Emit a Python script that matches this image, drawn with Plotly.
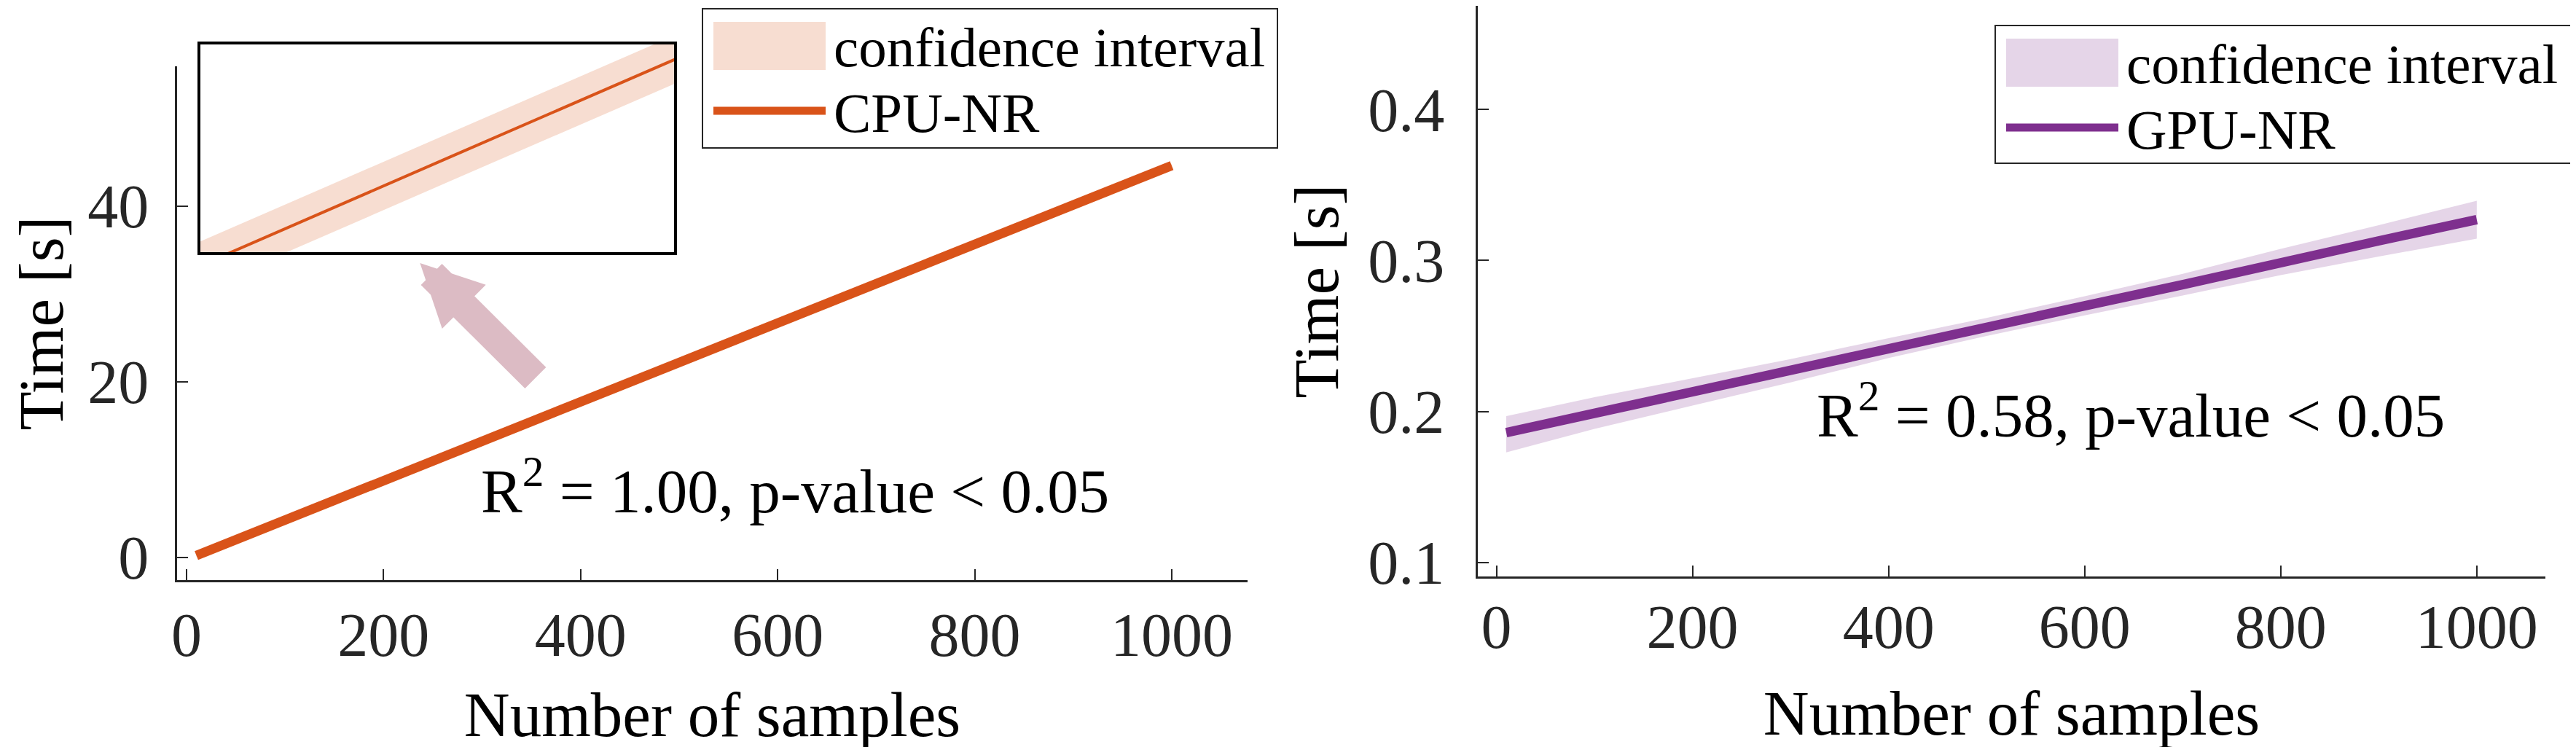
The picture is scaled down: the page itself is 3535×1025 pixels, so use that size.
import plotly.graph_objects as go

W, H = 3535, 1025
FONT = "Liberation Serif"

# regression lines
samples = [10, 100, 200, 300, 400, 500, 600, 700, 800, 900, 1000]

cpu_fit = [0.20, 4.24, 8.72, 13.21, 17.69, 22.18, 26.66, 31.15, 35.63, 40.12, 44.60]
cpu_lo = [0.03, 4.08, 8.57, 13.06, 17.54, 22.03, 26.51, 31.00, 35.48, 39.96, 44.43]
cpu_hi = [0.37, 4.40, 8.87, 13.36, 17.84, 22.33, 26.81, 31.30, 35.78, 40.28, 44.77]

gpu_fit = [0.186, 0.199, 0.213, 0.227, 0.242, 0.256, 0.270, 0.284, 0.299, 0.313, 0.327]
gpu_lo = [0.173, 0.1885, 0.204, 0.2193, 0.2354, 0.250, 0.2637, 0.2768, 0.2903, 0.3026, 0.3145]
gpu_hi = [0.197, 0.2095, 0.222, 0.2347, 0.2486, 0.262, 0.2763, 0.2912, 0.3077, 0.3234, 0.3395]

x_ticks = [0, 200, 400, 600, 800, 1000]
cpu_yticks = [0, 20, 40]
gpu_yticks = [0.1, 0.2, 0.3, 0.4]
gpu_ytext = ["0.1", "0.2", "0.3", "0.4"]

CPU_COL = "rgb(217,83,25)"
CPU_CI = "rgba(217,83,25,0.2)"
GPU_COL = "rgb(126,47,142)"
GPU_CI = "rgba(126,47,142,0.2)"
ARROW_COL = "rgb(220,187,196)"
AX_COL = "#262626"


def px_x(p):
    return p / W


def px_y(p):
    return 1 - p / H


def band(fig, x, lo, hi, fit, fill, col, lw, xa, ya):
    fig.add_trace(go.Scatter(x=x, y=lo, mode="lines", line=dict(width=0),
                             showlegend=False, hoverinfo="skip", xaxis=xa, yaxis=ya))
    fig.add_trace(go.Scatter(x=x, y=hi, mode="lines", line=dict(width=0),
                             fill="tonexty", fillcolor=fill, showlegend=False,
                             hoverinfo="skip", xaxis=xa, yaxis=ya))
    fig.add_trace(go.Scatter(x=x, y=fit, mode="lines", line=dict(color=col, width=lw),
                             showlegend=False, xaxis=xa, yaxis=ya))


fig = go.Figure()
band(fig, samples, cpu_lo, cpu_hi, cpu_fit, CPU_CI, CPU_COL, 13, "x", "y")
band(fig, samples, gpu_lo, gpu_hi, gpu_fit, GPU_CI, GPU_COL, 13, "x2", "y2")
# zoomed inset of the CPU fit
band(fig, samples, cpu_lo, cpu_hi, cpu_fit, CPU_CI, CPU_COL, 4, "x3", "y3")

tickfont = dict(family=FONT, size=84, color=AX_COL)
titlefont = dict(family=FONT, size=87, color="black")
common = dict(showgrid=False, zeroline=False, showline=True, linecolor=AX_COL,
              linewidth=3, ticks="inside", ticklen=15, tickwidth=2, tickcolor=AX_COL,
              tickfont=tickfont, automargin=False)

fig.update_layout(
    width=W, height=H, template="none",
    margin=dict(l=0, r=0, t=0, b=0),
    paper_bgcolor="white", plot_bgcolor="white",
    showlegend=False,
    xaxis=dict(domain=[px_x(235), px_x(1704)], range=[-9.6, 1077], tickvals=x_ticks,
               anchor="y", ticklabelstandoff=0,
               title=dict(text="Number of samples", font=titlefont, standoff=33), **common),
    yaxis=dict(domain=[px_y(788), px_y(83)], range=[-2.6, 55.9], tickvals=cpu_yticks,
               anchor="x", ticklabelstandoff=19,
               title=dict(text="Time [s]", font=titlefont, standoff=21), **common),
    xaxis2=dict(domain=[px_x(2020), px_x(3485)], range=[-19, 1070], tickvals=x_ticks,
                anchor="y2", ticklabelstandoff=-6,
                title=dict(text="Number of samples", font=titlefont, standoff=42), **common),
    yaxis2=dict(domain=[px_y(783), 1.0], range=[0.0908, 0.4686], tickvals=gpu_yticks,
                ticktext=gpu_ytext, anchor="x2", ticklabelstandoff=26,
                title=dict(text="Time [s]", font=titlefont, standoff=12), **common),
    xaxis3=dict(domain=[px_x(267), px_x(917)], range=[485, 513.5], anchor="y3",
                showgrid=False, zeroline=False, showticklabels=False, ticks="",
                showline=True, mirror=True, linecolor="black", linewidth=4),
    yaxis3=dict(domain=[px_y(338), px_y(53)], range=[21.59, 22.88], anchor="x3",
                showgrid=False, zeroline=False, showticklabels=False, ticks="",
                showline=True, mirror=True, linecolor="black", linewidth=4),
)

annfont = dict(family=FONT, size=85, color="black")
fig.add_annotation(x=297, y=8.05, xref="x", yref="y", xanchor="left", yanchor="middle",
                   text="R<sup>2</sup> = 1.00, p-value &lt; 0.05", showarrow=False, font=annfont)
fig.add_annotation(x=325, y=0.2005, xref="x2", yref="y2", xanchor="left", yanchor="middle",
                   text="R<sup>2</sup> = 0.58, p-value &lt; 0.05", showarrow=False, font=annfont)

# arrow pointing at the inset
fig.add_annotation(x=237, y=33.5, xref="x", yref="y", ax=160, ay=159, axref="pixel", ayref="pixel",
                   text="", showarrow=True, arrowhead=2, arrowwidth=41, arrowsize=0.415,
                   arrowcolor=ARROW_COL)

# legends drawn by hand so the swatches get MATLAB-like size
legfont = dict(family=FONT, size=77, color="black")
legends = [
    (956, 4, 1745, 195, CPU_CI, CPU_COL, "CPU-NR"),
    (2730, 27, 3522, 216, GPU_CI, GPU_COL, "GPU-NR"),
]
for x0, y0, x1, y1, ci, col, name in legends:
    fig.add_shape(type="rect", xref="paper", yref="paper",
                  x0=px_x(x0), x1=px_x(x1), y0=px_y(y1), y1=px_y(y0),
                  line=dict(color=AX_COL, width=2), fillcolor="white", layer="above")
    fig.add_shape(type="rect", xref="paper", yref="paper",
                  x0=px_x(x0 + 15), x1=px_x(x0 + 169), y0=px_y(y0 + 84), y1=px_y(y0 + 18),
                  line=dict(width=0), fillcolor=ci, layer="above")
    fig.add_shape(type="line", xref="paper", yref="paper",
                  x0=px_x(x0 + 15), x1=px_x(x0 + 169), y0=px_y(y0 + 140), y1=px_y(y0 + 140),
                  line=dict(color=col, width=11), layer="above")
    fig.add_annotation(x=px_x(x0 + 178), y=px_y(y0 + 53), xref="paper", yref="paper",
                       xanchor="left", yanchor="middle", text="confidence interval",
                       showarrow=False, font=legfont)
    fig.add_annotation(x=px_x(x0 + 178), y=px_y(y0 + 143), xref="paper", yref="paper",
                       xanchor="left", yanchor="middle", text=name,
                       showarrow=False, font=legfont)

fig.write_html("out.html")
